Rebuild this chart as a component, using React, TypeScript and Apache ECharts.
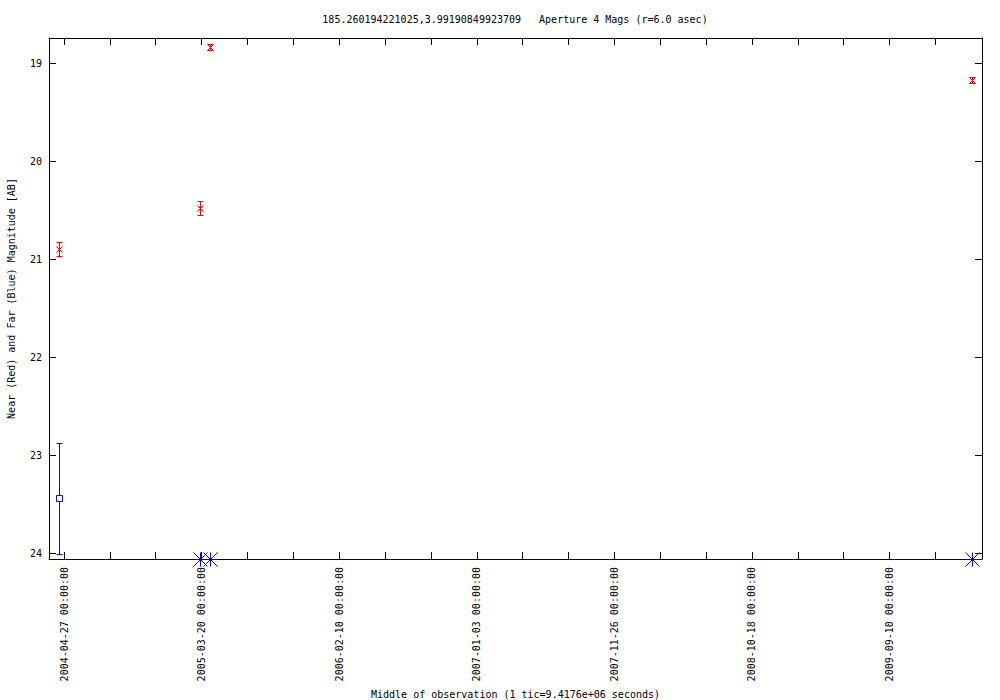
import React, { useEffect, useRef } from "react";
import * as echarts from "echarts";

// ---- data ----
const titleText = "185.260194221025,3.99190849923709   Aperture 4 Mags (r=6.0 asec)";
const xAxisName = "Middle of observation (1 tic=9.4176e+06 seconds)";
const yAxisName = "Near (Red) and Far (Blue) Magnitude [AB]";

// labelled x ticks (every 3 tics)
const xLabelDates = ["2004-04-27", "2005-03-20", "2006-02-10", "2007-01-03", "2007-11-26", "2008-10-18", "2009-09-10"];
const tickStepDays = 109; // 9.4176e6 seconds
const tickCount = 20;
const yTicks = [19, 20, 21, 22, 23, 24];

// near (red) detections
const nearDates = ["2004-04-14", "2005-03-16", "2005-04-09", "2010-03-26"];
const nearMag = [20.895, 20.48, 18.834, 19.174];
const nearErr = [0.07, 0.068, 0.03, 0.03];

// far (blue) detection
const farDates = ["2004-04-14"];
const farMag = [23.44];
const farErr = [0.565];

// far (blue) limits
const farLimitDates = ["2005-03-16", "2005-04-09", "2010-03-26"];
const farLimitMag = [24.058, 24.058, 24.058];

// axis ranges
const xMinDays = -35.7;
const xMaxDays = 2181.7;
const yMin = 18.745;
const yMax = 24.058;

const REF = Date.UTC(2004, 3, 27);
function dayOf(s: string): number {
  const [y, m, d] = s.split("-").map(Number);
  return (Date.UTC(y, m - 1, d) - REF) / 86400000;
}

const RED = "#ff0000";
const BLUE = "#0000ff";
const FONT = "DejaVu Sans Mono";

export default function App() {
  const ref = useRef<HTMLDivElement>(null);
  useEffect(() => {
    if (!ref.current) return;
    const chart = echarts.init(ref.current, undefined, { renderer: "svg" });

    const tickValues: number[] = [];
    for (let i = 0; i < tickCount; i++) tickValues.push(i * tickStepDays);
    const labelValues = xLabelDates.map(dayOf);
    const labelMap: Record<string, string> = {};
    xLabelDates.forEach((d, i) => (labelMap[String(labelValues[i])] = d + " 00:00:00"));

    const nearData = nearDates.map((d, i) => [dayOf(d), nearMag[i], nearErr[i]]);
    const farData = farDates.map((d, i) => [dayOf(d), farMag[i], farErr[i]]);
    const limitData = farLimitDates.map((d, i) => [dayOf(d), farLimitMag[i]]);

    const px = (v: number) => Math.round(v) + 0.5;
    const line = (x1: number, y1: number, x2: number, y2: number, color: string) => ({
      type: "line",
      shape: { x1, y1, x2, y2 },
      style: { stroke: color, lineWidth: 1, fill: null },
      silent: true,
    });

    const axisCommon = {
      axisLine: { show: true, onZero: false, lineStyle: { color: "#000", width: 1 } },
      splitLine: { show: false },
    };

    const option: any = {
      animation: false,
      backgroundColor: "#fff",
      grid: { left: 49, right: 18, top: 38, bottom: 141, containLabel: false, outerBoundsMode: "none" },
      graphic: [
        {
          type: "text",
          x: 515,
          y: 19,
          style: {
            text: titleText,
            fontFamily: FONT,
            fontSize: 10,
            fill: "#000",
            textAlign: "center",
            textVerticalAlign: "middle",
          },
        },
      ],
      xAxis: [
        {
          type: "value",
          position: "bottom",
          min: xMinDays,
          max: xMaxDays,
          ...axisCommon,
          axisTick: { show: true, inside: true, length: 7, customValues: tickValues, lineStyle: { color: "#000" } },
          axisLabel: {
            show: true,
            rotate: 90,
            margin: 8,
            customValues: labelValues,
            formatter: (v: number) => labelMap[String(v)] || "",
            fontFamily: FONT,
            fontSize: 10,
            color: "#000",
          },
          name: xAxisName,
          nameLocation: "middle",
          nameGap: 127,
          nameTextStyle: { fontFamily: FONT, fontSize: 10, color: "#000" },
        },
        {
          type: "value",
          position: "top",
          min: xMinDays,
          max: xMaxDays,
          ...axisCommon,
          axisTick: { show: true, inside: true, length: 7, customValues: tickValues, lineStyle: { color: "#000" } },
          axisLabel: { show: false },
        },
      ],
      yAxis: [
        {
          type: "value",
          position: "left",
          inverse: true,
          min: yMin,
          max: yMax,
          ...axisCommon,
          axisTick: { show: true, inside: true, length: 7, customValues: yTicks, lineStyle: { color: "#000" } },
          axisLabel: {
            show: true,
            margin: 7,
            customValues: yTicks,
            formatter: (v: number) => String(v),
            fontFamily: FONT,
            fontSize: 10,
            color: "#000",
          },
          name: yAxisName,
          nameLocation: "middle",
          nameGap: 33,
          nameTextStyle: { fontFamily: FONT, fontSize: 10, color: "#000" },
        },
        {
          type: "value",
          position: "right",
          inverse: true,
          min: yMin,
          max: yMax,
          ...axisCommon,
          axisTick: { show: true, inside: true, length: 7, customValues: yTicks, lineStyle: { color: "#000" } },
          axisLabel: { show: false },
        },
      ],
      series: [
        {
          type: "custom",
          name: "near",
          xAxisIndex: 0,
          yAxisIndex: 0,
          data: nearData,
          clip: false,
          itemStyle: { color: RED },
          renderItem: (params: any, api: any) => {
            const x = api.value(0);
            const y = api.value(1);
            const e = api.value(2);
            const c = api.coord([x, y]);
            const top = px(api.coord([x, y - e])[1]);
            const bot = px(api.coord([x, y + e])[1]);
            const cx = px(c[0]);
            const cy = px(c[1]);
            const h = 3;
            const m = 3;
            return {
              type: "group",
              children: [
                line(cx, top, cx, bot, RED),
                line(cx - h, top, cx + h, top, RED),
                line(cx - h, bot, cx + h, bot, RED),
                line(cx - m, cy - m, cx + m, cy + m, RED),
                line(cx - m, cy + m, cx + m, cy - m, RED),
              ],
            };
          },
        },
        {
          type: "custom",
          name: "far",
          xAxisIndex: 0,
          yAxisIndex: 0,
          data: farData,
          clip: false,
          itemStyle: { color: BLUE },
          renderItem: (params: any, api: any) => {
            const x = api.value(0);
            const y = api.value(1);
            const e = api.value(2);
            const c = api.coord([x, y]);
            const top = px(api.coord([x, y - e])[1]);
            const bot = px(api.coord([x, y + e])[1]);
            const cx = px(c[0]);
            const cy = px(c[1]);
            const h = 3;
            const s = 3;
            return {
              type: "group",
              children: [
                line(cx, top, cx, cy - s, BLUE),
                line(cx, cy + s, cx, bot, BLUE),
                line(cx - h, top, cx + h, top, BLUE),
                line(cx - h, bot, cx + h, bot, BLUE),
                {
                  type: "rect",
                  shape: { x: cx - s, y: cy - s, width: 2 * s, height: 2 * s },
                  style: { stroke: BLUE, fill: null, lineWidth: 1 },
                  silent: true,
                },
              ],
            };
          },
        },
        {
          type: "custom",
          name: "farLimit",
          xAxisIndex: 0,
          yAxisIndex: 0,
          data: limitData,
          clip: false,
          itemStyle: { color: BLUE },
          renderItem: (params: any, api: any) => {
            const c = api.coord([api.value(0), api.value(1)]);
            const cx = px(c[0]);
            const cy = px(c[1]);
            const r = 7;
            return {
              type: "group",
              children: [
                line(cx, cy - r, cx, cy + r, BLUE),
                line(cx - r, cy, cx + r, cy, BLUE),
                line(cx - r, cy - r, cx + r, cy + r, BLUE),
                line(cx - r, cy + r, cx + r, cy - r, BLUE),
              ],
            };
          },
        },
      ],
    };
    chart.setOption(option);
    return () => chart.dispose();
  }, []);
  return (
    <div
      ref={ref}
      style={{ position: "fixed", left: 0, top: 0, width: 1000, height: 700, background: "#fff" }}
    />
  );
}
